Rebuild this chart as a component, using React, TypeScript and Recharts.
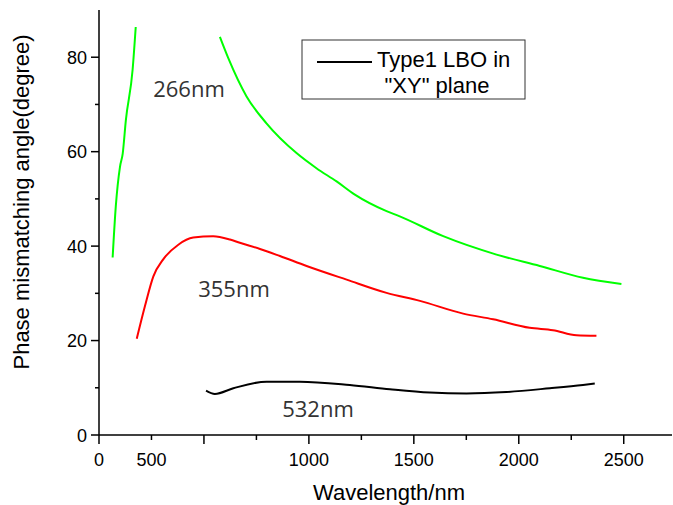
import { LineChart, Line, XAxis, YAxis } from 'recharts';

// wavelength (nm) / angle (degree)
const uv266LowX = [65, 80, 100, 113, 128, 160, 175];
const uv266LowY = [37.6, 48.4, 56.8, 59.6, 66.7, 77.3, 86.4];

const uv266HighX = [576, 616, 703, 798, 941, 1036, 1132, 1219, 1370, 1433, 1640, 1894, 2100, 2306, 2489];
const uv266HighY = [84.3, 79.8, 71.7, 66.0, 59.7, 56.5, 53.7, 50.9, 47.4, 46.3, 42.1, 38.2, 35.8, 33.3, 32.0];

const uv355X = [180, 219, 259, 306, 378, 449, 544, 624, 671, 767, 862, 989, 1180, 1370, 1529, 1735, 1878, 2052, 2163, 2275, 2370];
const uv355Y = [20.4, 27.3, 33.6, 37.2, 40.3, 41.8, 42.1, 41.4, 40.7, 39.4, 37.9, 35.8, 32.9, 30.1, 28.4, 25.7, 24.5, 22.7, 22.2, 21.1, 21.0];

const g532X = [510, 552, 640, 799, 957, 1195, 1386, 1576, 1751, 1941, 2148, 2306, 2362];
const g532Y = [9.4, 8.7, 9.9, 11.3, 11.3, 10.6, 9.7, 9.0, 8.8, 9.1, 9.9, 10.6, 10.9];

const xTicks = [0, 250, 500, 750, 1000, 1250, 1500, 1750, 2000, 2250, 2500];
// the original labels its first minor tick "500" and leaves 500 blank
const xTickLabels: Record<number, string> = { 0: '0', 250: '500', 1000: '1000', 1500: '1500', 2000: '2000', 2500: '2500' };
const yTicks = [0, 10, 20, 30, 40, 50, 60, 70, 80];

const toPts = (xs: number[], ys: number[]) => xs.map((x, i) => ({ x, y: ys[i] }));

const axisFont = '"Liberation Sans", Arial, sans-serif';

const XTick = (props: any) => {
  const { x, y, payload } = props;
  const v = payload.value;
  const major = v % 500 === 0;
  const label = xTickLabels[v];
  return (
    <g>
      <line x1={x} x2={x} y1={y} y2={y + (major ? 9 : 5)} stroke="#000" strokeWidth={1.5} />
      {label && (
        <text x={x} y={y + 31} textAnchor="middle" fontSize={18} fontFamily={axisFont} fill="#000">
          {label}
        </text>
      )}
    </g>
  );
};

const YTick = (props: any) => {
  const { x, y, payload } = props;
  const v = payload.value;
  const major = v % 20 === 0;
  return (
    <g>
      <line x1={x} x2={x - (major ? 8 : 4)} y1={y} y2={y} stroke="#000" strokeWidth={1.5} />
      {major && (
        <text x={x - 12} y={y + 6.5} textAnchor="end" fontSize={18} fontFamily={axisFont} fill="#000">
          {v}
        </text>
      )}
    </g>
  );
};

const noteStyle = { fontSize: 22, fontFamily: '"Open Sans", sans-serif', fill: '#333' };

export default function App() {
  return (
    <div style={{ position: 'absolute', left: 0, top: 0, background: '#fff' }}>
      <LineChart width={673} height={505} margin={{ top: 10, right: 1, left: 0, bottom: 0 }}>
        <XAxis
          type="number"
          dataKey="x"
          domain={[0, 2730]}
          ticks={xTicks}
          tick={<XTick />}
          tickLine={false}
          tickSize={0}
          tickMargin={0}
          height={70}
          axisLine={{ stroke: '#000', strokeWidth: 1.5 }}
          allowDataOverflow
        />
        <YAxis
          type="number"
          domain={[0, 90]}
          ticks={yTicks}
          tick={<YTick />}
          tickLine={false}
          tickSize={0}
          tickMargin={0}
          width={99}
          axisLine={{ stroke: '#000', strokeWidth: 1.5 }}
          allowDataOverflow
        />
        <Line data={toPts(uv266LowX, uv266LowY)} dataKey="y" type="monotone" stroke="#00ff00" strokeWidth={2} dot={false} isAnimationActive={false} />
        <Line data={toPts(uv266HighX, uv266HighY)} dataKey="y" type="monotone" stroke="#00ff00" strokeWidth={2} dot={false} isAnimationActive={false} />
        <Line data={toPts(uv355X, uv355Y)} dataKey="y" type="monotone" stroke="#ff0000" strokeWidth={2} dot={false} isAnimationActive={false} />
        <Line data={toPts(g532X, g532Y)} dataKey="y" type="monotone" stroke="#000" strokeWidth={2} dot={false} isAnimationActive={false} />

        <text x={189} y={97} textAnchor="middle" {...noteStyle}>266nm</text>
        <text x={234} y={297} textAnchor="middle" {...noteStyle}>355nm</text>
        <text x={318} y={417} textAnchor="middle" {...noteStyle}>532nm</text>

        <rect x={302} y={40} width={223} height={59} fill="#fff" stroke="#333" strokeWidth={1} />
        <line x1={317} x2={372} y1={62} y2={62} stroke="#000" strokeWidth={2} />
        <text x={377} y={67} fontSize={22} fontFamily={axisFont} fill="#000">Type1 LBO in</text>
        <text x={437} y={93} textAnchor="middle" fontSize={22} fontFamily={axisFont} fill="#000">"XY" plane</text>

        <text x={389} y={500} textAnchor="middle" fontSize={22} fontFamily={axisFont} fill="#000">Wavelength/nm</text>
        <text x={29} y={202} textAnchor="middle" transform="rotate(-90 29 202)" fontSize={22} fontFamily={axisFont} fill="#000">
          Phase mismatching angle(degree)
        </text>
      </LineChart>
    </div>
  );
}
